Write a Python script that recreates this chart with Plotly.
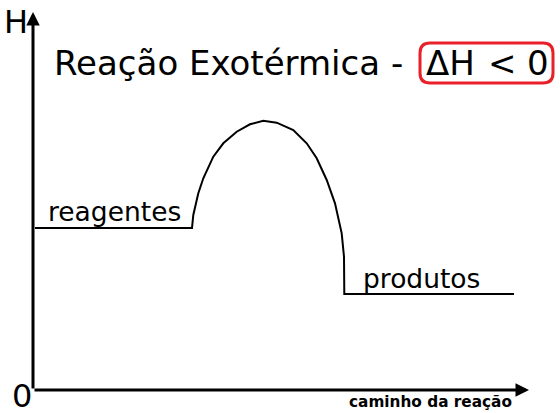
import plotly.graph_objects as go

# ---- data (reaction path: x = progress, H = enthalpy, arbitrary units) ----
path_x = [2, 159, 159, 160.3, 165.3, 170.3, 180.3, 190.3, 203.7, 217, 230.3, 243.7,
          260.3, 273.7, 283.7, 293.7, 302, 308.7, 311, 311.3, 481]
path_H = [162, 162, 162, 175, 196.7, 211.7, 233.3, 246.7, 258.3, 265.7, 269.3, 267.3,
          260, 246.7, 231.7, 210, 186.7, 156.7, 133.3, 96, 96]

title_parts = ["Reação Exotérmica -", "ΔH", "<", "0"]
y_label = "H"
origin_label = "0"
x_label = "caminho da reação"
reactants_label = "reagentes"
products_label = "produtos"

# ---- layout constants ----
W, H = 560, 413
X_MIN, X_MAX = -33, 527
Y_MIN, Y_MAX = -23, 390
AX_X_END = 496
AX_Y_END = 378
FONT = "DejaVu Sans"
TITLE_X = [19, 391, 453, 492]

fig = go.Figure()
fig.add_trace(go.Scatter(x=path_x, y=path_H, mode="lines",
                         line=dict(color="black", width=2),
                         hoverinfo="skip", showlegend=False))

# axes with arrows
for (tx, ty) in [(0, AX_Y_END), (AX_X_END, 0)]:
    fig.add_annotation(x=tx, y=ty, ax=0, ay=0, xref="x", yref="y",
                       axref="x", ayref="y", text="", showarrow=True,
                       arrowhead=2, arrowsize=0.9, arrowwidth=3,
                       arrowcolor="black")

def label(txt, x, y, size, bold=False, anchor="left", yanchor="middle", yshift=0):
    fig.add_annotation(x=x, y=y, xref="x", yref="y", text=f"<b>{txt}</b>" if bold else txt,
                       showarrow=False, xanchor=anchor, yanchor=yanchor, yshift=yshift,
                       font=dict(family=FONT, size=size, color="black"))

for part, px in zip(title_parts, TITLE_X):
    label(part, px, 327, 34)
label(y_label, -31, 368, 32)
label(origin_label, -23, -23, 32, yanchor="bottom", yshift=-4)
label(reactants_label, 13, 179, 26.5)
label(products_label, 328, 112, 26.5)
label(x_label, 314, -12, 15.3, bold=True)

# red rounded highlight box
bx0, bx1, by0, by1, r = 387, 520, 307, 347, 10
path = (f"M {bx0+r},{by1} L {bx1-r},{by1} Q {bx1},{by1} {bx1},{by1-r} "
        f"L {bx1},{by0+r} Q {bx1},{by0} {bx1-r},{by0} L {bx0+r},{by0} "
        f"Q {bx0},{by0} {bx0},{by0+r} L {bx0},{by1-r} Q {bx0},{by1} {bx0+r},{by1} Z")
fig.add_shape(type="path", path=path, xref="x", yref="y",
              line=dict(color="#e8202a", width=3))

fig.update_layout(width=W, height=H, margin=dict(l=0, r=0, t=0, b=0),
                  paper_bgcolor="white", plot_bgcolor="white",
                  xaxis=dict(range=[X_MIN, X_MAX], visible=False, fixedrange=True),
                  yaxis=dict(range=[Y_MIN, Y_MAX], visible=False, fixedrange=True))

fig.write_html("out.html", config={"displayModeBar": False},
               post_script="document.body.style.margin='0';document.body.style.overflow='hidden';")
